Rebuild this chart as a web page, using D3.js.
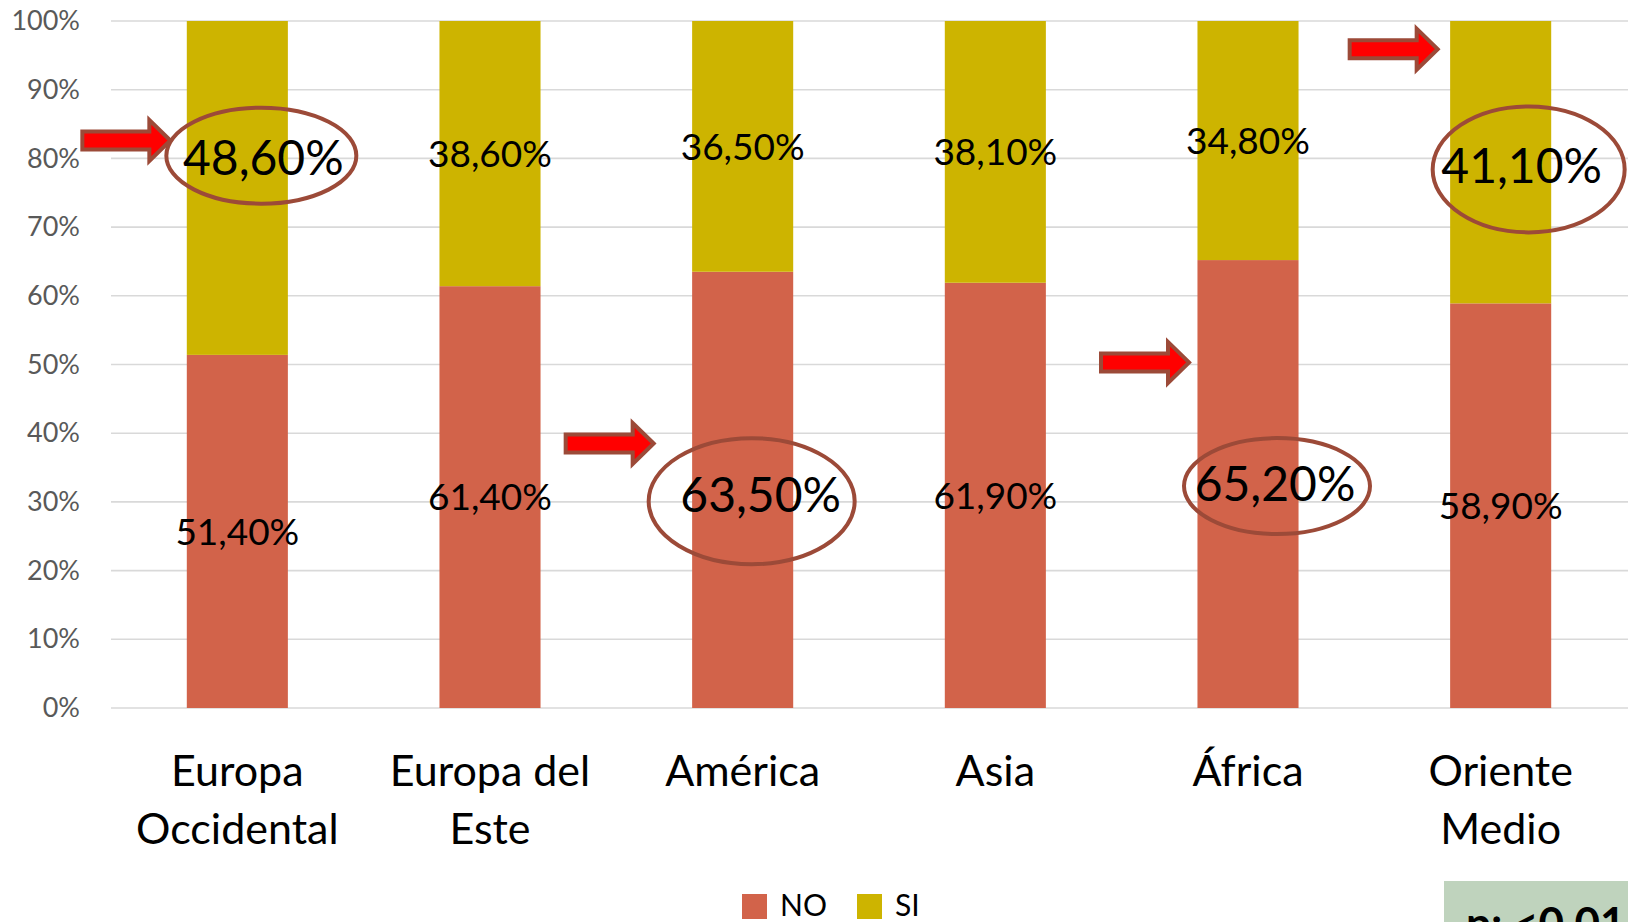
<!DOCTYPE html>
<html>
<head>
<meta charset="utf-8">
<script src="https://cdn.jsdelivr.net/npm/d3@7"></script>
<style>
  body { margin: 0; background: #fff; }
  svg { display: block; font-family: Lato, "Open Sans", sans-serif; }
</style>
</head>
<body>
<svg id="chart" width="1628" height="922"></svg>
<script>
// data
const categories = ["Europa Occidental", "Europa del Este", "América", "Asia", "África", "Oriente Medio"];
const catLines = [["Europa", "Occidental"], ["Europa del", "Este"], ["América"], ["Asia"], ["África"], ["Oriente", "Medio"]];
const seriesNames = ["NO", "SI"];
const noValues = [51.4, 61.4, 63.5, 61.9, 65.2, 58.9];
const siValues = [48.6, 38.6, 36.5, 38.1, 34.8, 41.1];
const yTicks = [0, 10, 20, 30, 40, 50, 60, 70, 80, 90, 100];
const colors = { NO: "#D2634A", SI: "#CDB400" };

// highlighted labels (circled) : which bar/series
const highlights = [
  { cat: "Europa Occidental", series: "SI" },
  { cat: "América", series: "NO" },
  { cat: "África", series: "NO" },
  { cat: "Oriente Medio", series: "SI" }
];

// annotation placement (in chart units: % for y, px offset from bar centre for x)
const circleSpots = [
  { cat: "Europa Occidental", at: 80.4, dx: 24, rx: 95, ry: 48, tx: 26, ty: 80.1 },
  { cat: "América", at: 30.1, dx: 9, rx: 103, ry: 63, tx: 18, ty: 31.1 },
  { cat: "África", at: 32.3, dx: 29, rx: 93, ry: 48, tx: 27, ty: 32.6 },
  { cat: "Oriente Medio", at: 78.4, dx: 28, rx: 96, ry: 63, tx: 21, ty: 78.9 }
];
const arrowSpots = [
  { cat: "Europa Occidental", at: 82.6, dx: -67 },
  { cat: "América", at: 38.5, dx: -89 },
  { cat: "África", at: 50.3, dx: -59 },
  { cat: "Oriente Medio", at: 95.9, dx: -63 }
];

const fmt = v => v.toFixed(2).replace(".", ",") + "%";

const svg = d3.select("#chart");

const x = d3.scaleBand()
  .domain(categories)
  .range([111, 1627])
  .paddingInner(0.6)
  .paddingOuter(0.3);

const y = d3.scaleLinear().domain([0, 100]).range([708, 21]);

// gridlines
svg.append("g")
  .selectAll("line")
  .data(yTicks)
  .enter()
  .append("line")
  .attr("x1", 111)
  .attr("x2", 1628)
  .attr("y1", d => y(d))
  .attr("y2", d => y(d))
  .attr("stroke", "#D9D9D9")
  .attr("stroke-width", 1.6);

// y axis labels
const yAxis = svg.append("g")
  .attr("transform", "translate(80,0)")
  .call(d3.axisLeft(y).tickValues(yTicks).tickFormat(d => d + "%").tickSize(0).tickPadding(0));
yAxis.select(".domain").remove();
yAxis.selectAll("text")
  .attr("font-family", "Lato, sans-serif")
  .attr("font-size", 27)
  .attr("fill", "#595959");

// stacked bars
const rows = categories.map((c, i) => ({ cat: c, NO: noValues[i], SI: siValues[i] }));
const stacked = d3.stack().keys(seriesNames)(rows);

svg.append("g")
  .selectAll("g")
  .data(stacked)
  .enter()
  .append("g")
  .attr("fill", d => colors[d.key])
  .selectAll("rect")
  .data(d => d)
  .enter()
  .append("rect")
  .attr("x", d => x(d.data.cat))
  .attr("width", x.bandwidth())
  .attr("y", d => y(d[1]))
  .attr("height", d => y(d[0]) - y(d[1]));

// normal data labels (at segment middle)
const isHighlighted = (cat, key) => highlights.some(h => h.cat === cat && h.series === key);
const labels = [];
stacked.forEach(s => s.forEach(d => {
  if (!isHighlighted(d.data.cat, s.key)) {
    labels.push({ cat: d.data.cat, mid: (d[0] + d[1]) / 2, v: d.data[s.key] });
  }
}));

svg.append("g")
  .selectAll("text")
  .data(labels)
  .enter()
  .append("text")
  .attr("x", d => x(d.cat) + x.bandwidth() / 2)
  .attr("y", d => y(d.mid))
  .attr("dy", "0.36em")
  .attr("text-anchor", "middle")
  .attr("font-size", 37)
  .attr("fill", "#000")
  .text(d => fmt(d.v));

// circled big labels
const bigLabels = circleSpots.map(c => {
  const h = highlights.find(h => h.cat === c.cat);
  const i = categories.indexOf(c.cat);
  return Object.assign({}, c, { v: h.series === "NO" ? noValues[i] : siValues[i] });
});

svg.append("g")
  .selectAll("text")
  .data(bigLabels)
  .enter()
  .append("text")
  .attr("x", d => x(d.cat) + x.bandwidth() / 2 + d.tx)
  .attr("y", d => y(d.ty))
  .attr("dy", "0.36em")
  .attr("text-anchor", "middle")
  .attr("font-size", 48)
  .attr("fill", "#000")
  .text(d => fmt(d.v));

svg.append("g")
  .selectAll("ellipse")
  .data(circleSpots)
  .enter()
  .append("ellipse")
  .attr("cx", d => x(d.cat) + x.bandwidth() / 2 + d.dx)
  .attr("cy", d => y(d.at))
  .attr("rx", d => d.rx)
  .attr("ry", d => d.ry)
  .attr("fill", "none")
  .attr("stroke", "#9C4A38")
  .attr("stroke-width", 4);

// arrows, tip at (0,0)
const arrowPath = "M0,0 L-21,-20.5 L-21,-9 L-88,-9 L-88,9 L-21,9 L-21,20.5 Z";
svg.append("g")
  .selectAll("path")
  .data(arrowSpots)
  .enter()
  .append("path")
  .attr("d", arrowPath)
  .attr("transform", d => `translate(${x(d.cat) + x.bandwidth() / 2 + d.dx},${y(d.at)})`)
  .attr("fill", "#FF0000")
  .attr("stroke", "#9C4A38")
  .attr("stroke-width", 4)
  .attr("stroke-linejoin", "miter");

// category labels
const catG = svg.append("g")
  .selectAll("text")
  .data(categories)
  .enter()
  .append("text")
  .attr("x", d => x(d) + x.bandwidth() / 2)
  .attr("y", 786)
  .attr("text-anchor", "middle")
  .attr("font-size", 43)
  .attr("fill", "#000");
catG.selectAll("tspan")
  .data((d, i) => catLines[i])
  .enter()
  .append("tspan")
  .attr("x", function () { return d3.select(this.parentNode).attr("x"); })
  .attr("dy", (d, i) => i === 0 ? 0 : 58)
  .text(d => d);

// legend
const legend = svg.append("g")
  .selectAll("g")
  .data(seriesNames)
  .enter()
  .append("g")
  .attr("transform", (d, i) => `translate(${742 + i * 115},894)`);
legend.append("rect")
  .attr("width", 25)
  .attr("height", 25)
  .attr("fill", d => colors[d]);
legend.append("text")
  .attr("x", 38)
  .attr("y", 22)
  .attr("font-size", 30)
  .attr("fill", "#000")
  .text(d => d);

// p-value box
svg.append("rect")
  .attr("x", 1444)
  .attr("y", 881)
  .attr("width", 200)
  .attr("height", 60)
  .attr("fill", "#BFD3BD");
svg.append("text")
  .attr("x", 1466)
  .attr("y", 939)
  .attr("font-size", 44)
  .attr("font-weight", "bold")
  .attr("fill", "#000")
  .text("p: <0.01");
</script>
</body>
</html>
